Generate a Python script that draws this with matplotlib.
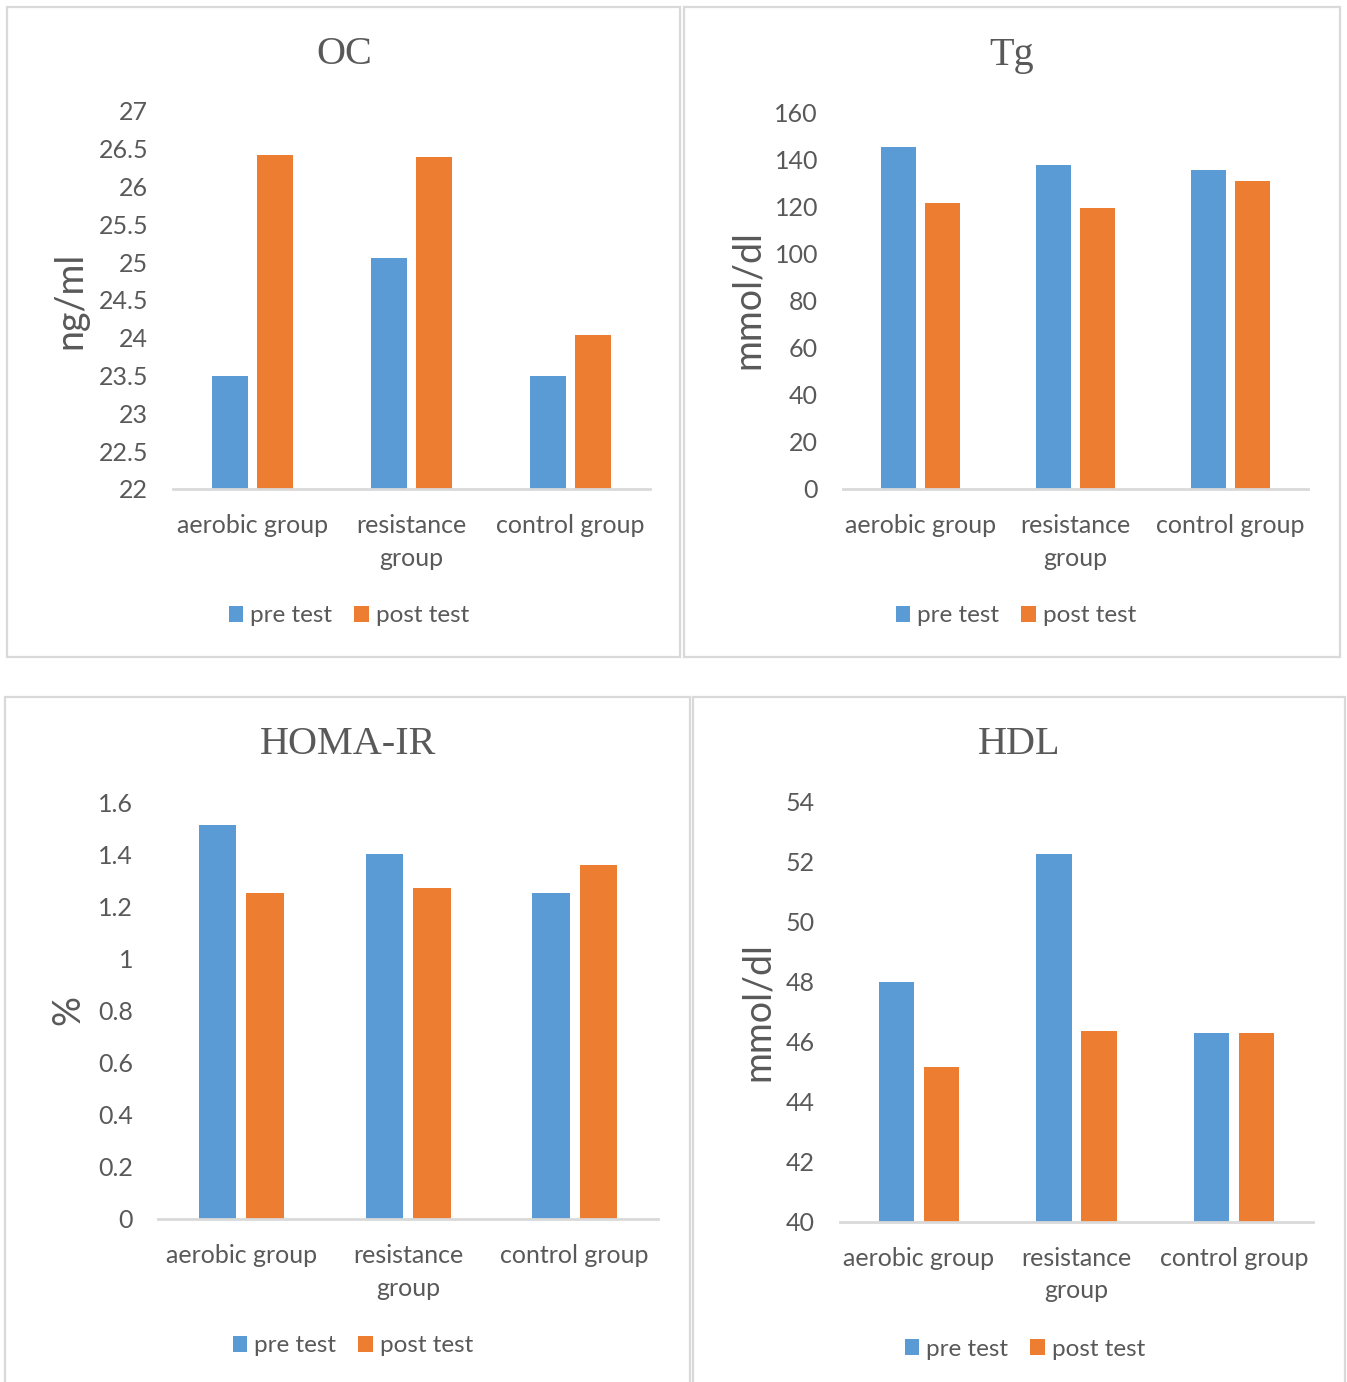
import matplotlib
matplotlib.use("Agg")
import matplotlib.pyplot as plt
from matplotlib.patches import Patch, Rectangle
import numpy as np

categories = ["aerobic group", "resistance\ngroup", "control group"]
series_names = ["pre test", "post test"]

oc_pre = [23.5, 25.05, 23.5]
oc_post = [26.42, 26.39, 24.04]
tg_pre = [145.1, 137.3, 135.3]
tg_post = [121.2, 119.2, 130.6]
homa_pre = [1.51, 1.40, 1.25]
homa_post = [1.25, 1.27, 1.36]
hdl_pre = [48.0, 52.27, 46.29]
hdl_post = [45.18, 46.38, 46.29]

oc_ticks = [22, 22.5, 23, 23.5, 24, 24.5, 25, 25.5, 26, 26.5, 27]
tg_ticks = [0, 20, 40, 60, 80, 100, 120, 140, 160]
homa_ticks = [0, 0.2, 0.4, 0.6, 0.8, 1, 1.2, 1.4, 1.6]
hdl_ticks = [40, 42, 44, 46, 48, 50, 52, 54]

BLUE = "#5B9BD5"
ORANGE = "#ED7D31"
TXT = "#595959"
GRID = "#D9D9D9"
SANS = ["Lato", "DejaVu Sans"]
SERIF = ["Liberation Serif", "DejaVu Serif"]

W, H = 1347, 1382
fig = plt.figure(figsize=(W / 100, H / 100), dpi=100)

def fx(px):
    return px / W

def fy(py):
    return 1 - py / H

# panel borders
for (x0, y0, x1, y1) in [(7, 7, 680, 657), (684, 7, 1340, 657),
                         (5, 697, 690, 1390), (693, 697, 1345, 1390)]:
    fig.patches.append(Rectangle((fx(x0), fy(y1)), fx(x1) - fx(x0), fy(y0) - fy(y1),
                                 transform=fig.transFigure, fill=False,
                                 edgecolor=GRID, linewidth=1.6, zorder=0))

panels = [
    dict(title="OC", ylabel="ng/ml", pre=oc_pre, post=oc_post, ticks=oc_ticks,
         box=(173, 650, 111, 489), title_xy=(344, 55), ylab_xy=(70, 300), leg_xy=(349, 616)),
    dict(title="Tg", ylabel="mmol/dl", pre=tg_pre, post=tg_post, ticks=tg_ticks,
         box=(843, 1308, 112, 489), title_xy=(1012, 55), ylab_xy=(748, 300), leg_xy=(1016, 616)),
    dict(title="HOMA-IR", ylabel="%", pre=homa_pre, post=homa_post, ticks=homa_ticks,
         box=(158, 658, 802, 1219), title_xy=(348, 745), ylab_xy=(68, 1010), leg_xy=(353, 1346)),
    dict(title="HDL", ylabel="mmol/dl", pre=hdl_pre, post=hdl_post, ticks=hdl_ticks,
         box=(840, 1313, 802, 1222), title_xy=(1019, 745), ylab_xy=(758, 1012), leg_xy=(1025, 1349)),
]

bw = 0.225
off = 0.1425
x = np.arange(len(categories))

for p in panels:
    l, r, t, b = p["box"]
    ax = fig.add_axes([fx(l), fy(b), fx(r) - fx(l), fy(t) - fy(b)])
    ax.bar(x - off, p["pre"], width=bw, color=BLUE, zorder=2)
    ax.bar(x + off, p["post"], width=bw, color=ORANGE, zorder=2)
    ax.set_xlim(-0.5, 2.5)
    ax.set_ylim(p["ticks"][0], p["ticks"][-1])
    ax.set_yticks(p["ticks"])
    ax.set_yticklabels([f"{v:g}" for v in p["ticks"]], fontfamily=SANS, fontsize=18, color=TXT)
    ax.set_xticks(x)
    ax.set_xticklabels(categories, fontfamily=SANS, fontsize=18, color=TXT, linespacing=1.5)
    ax.tick_params(axis="y", length=0, pad=18)
    ax.tick_params(axis="x", length=0, pad=18)
    for s in ["top", "right", "left"]:
        ax.spines[s].set_visible(False)
    ax.spines["bottom"].set_color(GRID)
    ax.spines["bottom"].set_linewidth(2)
    ax.spines["bottom"].set_zorder(3)
    ax.set_facecolor("none")

    fig.text(fx(p["title_xy"][0]), fy(p["title_xy"][1]), p["title"], ha="center", va="center",
             fontfamily=SERIF, fontsize=29, color=TXT)
    fig.text(fx(p["ylab_xy"][0]), fy(p["ylab_xy"][1]), p["ylabel"], ha="center", va="center",
             rotation=90, fontfamily=SANS, fontsize=27, color=TXT)
    handles = [Patch(facecolor=BLUE, edgecolor="none", label=series_names[0]),
               Patch(facecolor=ORANGE, edgecolor="none", label=series_names[1])]
    fig.legend(handles=handles, loc="center", ncol=2, frameon=False,
               bbox_to_anchor=(fx(p["leg_xy"][0]), fy(p["leg_xy"][1])),
               bbox_transform=fig.transFigure,
               prop={"family": SANS, "size": 17.5}, labelcolor=TXT,
               handlelength=0.6, handleheight=0.6, handletextpad=0.3, columnspacing=0.9)

fig.savefig("out.png", dpi=100, facecolor="white")
